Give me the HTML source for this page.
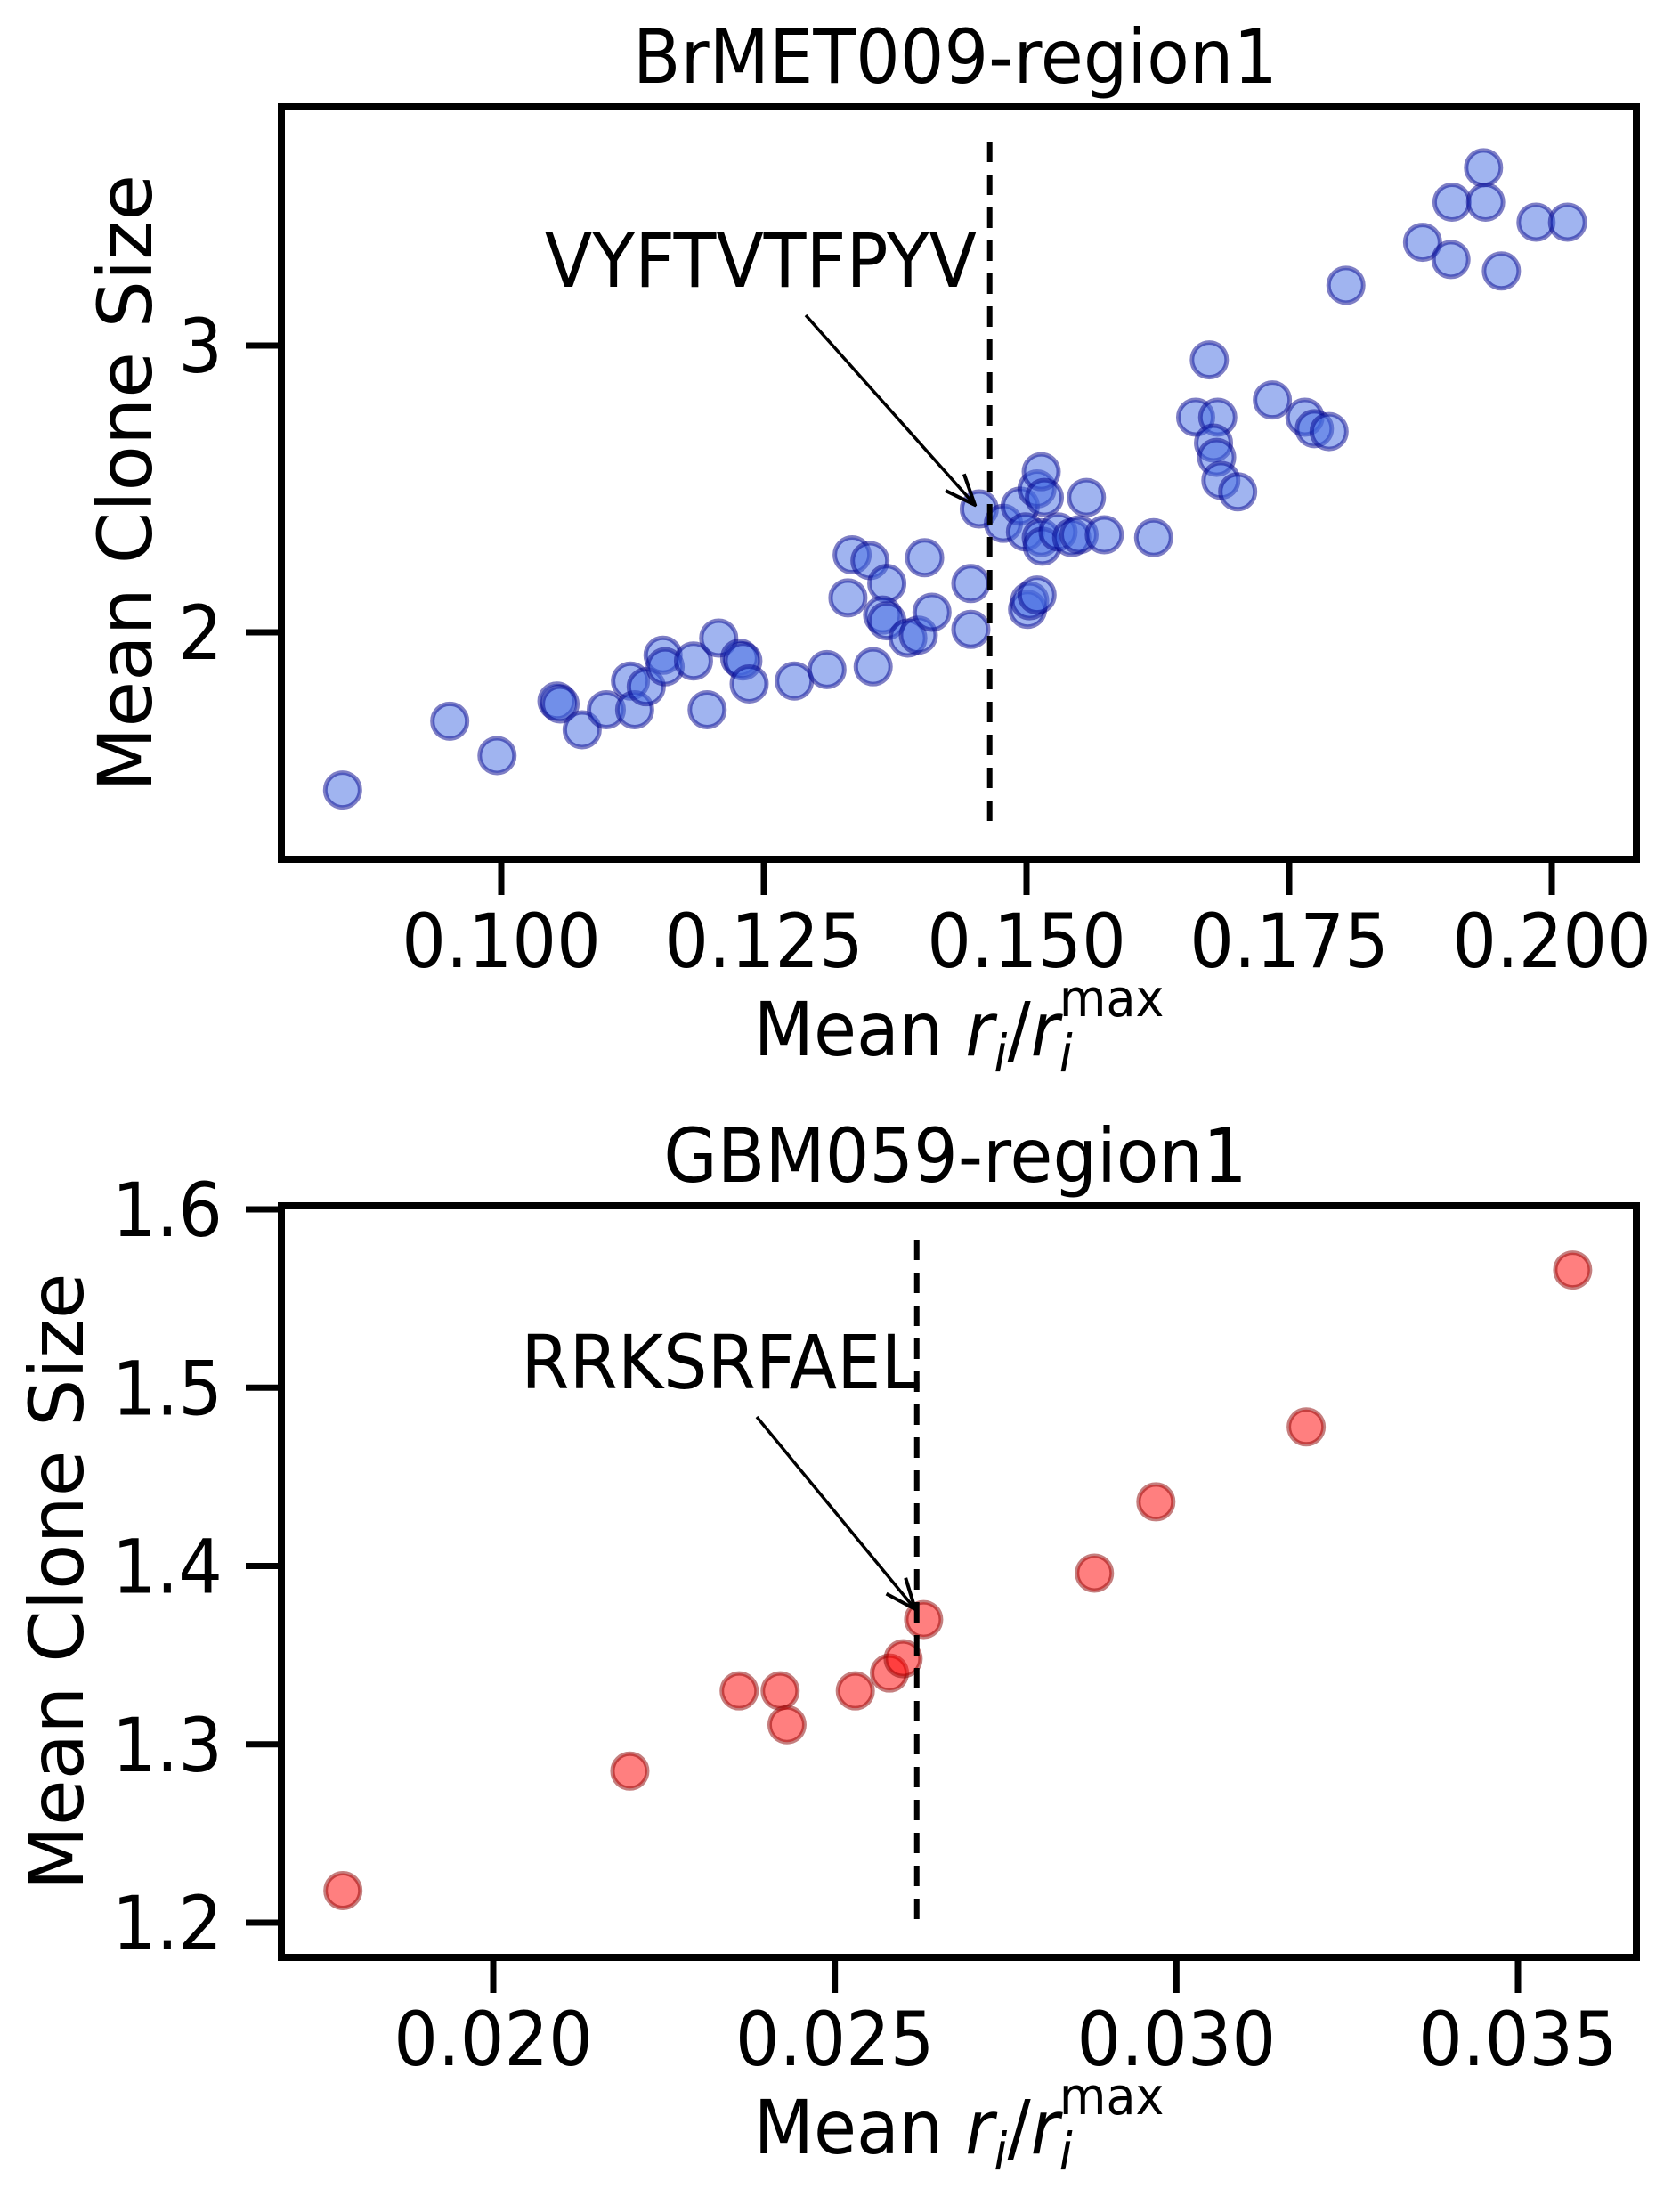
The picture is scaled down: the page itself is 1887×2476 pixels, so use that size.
<!DOCTYPE html>
<html><head><meta charset="utf-8">
<style>
html,body{margin:0;padding:0;background:#fff;}
svg{display:block;}
text{font-family:"DejaVu Sans","Liberation Sans",sans-serif;fill:#000;}
</style></head>
<body>
<svg id="chart" width="1887" height="2476" viewBox="0 0 1887 2476" xmlns="http://www.w3.org/2000/svg">
<defs>
<marker id="arr" viewBox="0 0 40 40" refX="38" refY="20" markerWidth="40" markerHeight="40" markerUnits="userSpaceOnUse" orient="auto">
<path d="M4,6 L38,20 L4,34" fill="none" stroke="#000" stroke-width="4"/>
</marker>
</defs>
</svg>
<script>
// Top panel data
const topX = [0.0849,0.0951,0.0996,0.1053,0.1056,0.1077,0.1100,0.1123,0.1127,0.1138,0.1154,0.1156,0.1183,0.1196,0.1207,0.1227,0.1230,0.1236,0.1279,0.1310,0.1330,0.1334,0.1351,0.1354,0.1367,0.1363,0.1367,0.1387,0.1397,0.1403,0.1410,0.1447,0.1447,0.1455,0.1478,0.1494,0.1499,0.1501,0.1503,0.1510,0.1510,0.1514,0.1514,0.1515,0.1517,0.1530,0.1543,0.1557,0.1550,0.1574,0.1621,0.1661,0.1674,0.1682,0.1678,0.1681,0.1685,0.1701,0.1734,0.1765,0.1774,0.1788,0.1804,0.1877,0.1904,0.1905,0.1935,0.1937,0.1952,0.1985,0.2015];
const topY = [1.45,1.69,1.57,1.76,1.75,1.66,1.73,1.83,1.73,1.81,1.92,1.88,1.90,1.73,1.98,1.91,1.90,1.82,1.83,1.87,2.12,2.27,2.25,1.88,2.17,2.06,2.04,1.98,1.99,2.26,2.07,2.17,2.01,2.43,2.38,2.44,2.35,2.08,2.11,2.13,2.50,2.56,2.33,2.30,2.47,2.35,2.33,2.47,2.34,2.34,2.33,2.75,2.95,2.75,2.66,2.61,2.53,2.49,2.81,2.75,2.71,2.70,3.21,3.36,3.30,3.50,3.62,3.50,3.26,3.43,3.43];
const topXTicks = [0.100,0.125,0.150,0.175,0.200];
const topXTickLabels = ["0.100","0.125","0.150","0.175","0.200"];
const topYTicks = [2,3];
const topYTickLabels = ["2","3"];
const topThreshold = 0.1465;
const topAnnX = 0.1455, topAnnY = 2.43;
// Bottom panel data
const botX = [0.0178,0.0220,0.0236,0.0242,0.0243,0.0253,0.0258,0.0260,0.0263,0.0288,0.0297,0.0319,0.0358];
const botY = [1.218,1.285,1.330,1.330,1.311,1.330,1.340,1.348,1.370,1.396,1.436,1.478,1.566];
const botXTicks = [0.020,0.025,0.030,0.035];
const botXTickLabels = ["0.020","0.025","0.030","0.035"];
const botYTicks = [1.2,1.3,1.4,1.5,1.6];
const botYTickLabels = ["1.2","1.3","1.4","1.5","1.6"];
const botThreshold = 0.0262;
const botAnnX = 0.0263, botAnnY = 1.370;

const NS = "http://www.w3.org/2000/svg";
const svg = document.getElementById('chart');
const FS = 84, SX = 0.93;
function mk(tag, attrs, parent){const e=document.createElementNS(NS,tag);for(const k in attrs)e.setAttribute(k,attrs[k]);(parent||svg).appendChild(e);return e;}
function htext(parent,x,y,anchor,str){
  return mk('text',{x:0,y:0,'text-anchor':anchor,'font-size':FS,transform:`translate(${x},${y}) scale(${SX},1)`},parent);
}

function panel(cfg){
  const g = mk('g',{});
  
  
  const sx = v => cfg.x0px + (v - cfg.x0v) * cfg.xs;
  const sy = v => cfg.y0px - (v - cfg.y0v) * cfg.ys;
  const L=cfg.left,R=cfg.right,T=cfg.top,B=cfg.bottom;
  const cx=(L+R)/2;
  const t = htext(g,cx-4,T-27,'middle'); t.textContent=cfg.title;
  
  
  const pts = mk('g',{},g);
  
  
  cfg.xs_.forEach((v,i)=>{
    const c = mk('circle',{cx:sx(v),cy:sy(cfg.ys_[i]),r:19.5,fill:cfg.fill,'fill-opacity':0.5,stroke:cfg.edge,'stroke-opacity':0.5,'stroke-width':5},pts);
    
    
  });
  const d = mk('line',{x1:sx(cfg.thr),x2:sx(cfg.thr),y1:cfg.dashTop,y2:cfg.dashBot,stroke:'#000','stroke-width':6,'stroke-dasharray':'23 14'},g);
  
  
  const at = htext(g,cfg.annTextX,cfg.annTextY,'end'); at.textContent=cfg.ann;
  
  
  const a = mk('line',{x1:cfg.arrX1,y1:cfg.arrY1,x2:cfg.arrX2,y2:cfg.arrY2,stroke:'#000','stroke-width':3.5,'marker-end':'url(#arr)'},g);
  
  
  const f = mk('rect',{x:L,y:T,width:R-L,height:B-T,fill:'none',stroke:'#000','stroke-width':8},g);
  
  
  cfg.xt.forEach((v,i)=>{
    const x=sx(v);
    const tk = mk('line',{x1:x,x2:x,y1:B,y2:B+40,stroke:'#000','stroke-width':7},g);
    
    
    const tl = htext(g,x,B+121,'middle'); tl.textContent=cfg.xtl[i];
    
    
  });
  cfg.yt.forEach((v,i)=>{
    const y=sy(v);
    const tk = mk('line',{x1:L-40,x2:L,y1:y,y2:y,stroke:'#000','stroke-width':7},g);
    
    
    const tl = htext(g,250,y+30,'end'); tl.textContent=cfg.ytl[i];
    
    
  });
  const xl = htext(g,cx,B+220,'middle');
  xl.innerHTML='Mean <tspan font-style="italic">r</tspan><tspan font-style="italic" font-size="58" dy="18">i</tspan><tspan dy="-18">/</tspan><tspan font-style="italic">r</tspan><tspan font-style="italic" font-size="58" dy="18">i</tspan><tspan font-size="58" dx="-16" dy="-62">max</tspan>';
  
  
  const yl = mk('text',{x:0,y:0,'text-anchor':'middle','font-size':FS,transform:`translate(${cfg.ylabX},${(T+B)/2}) rotate(-90)`},g);
  yl.textContent='Mean Clone Size';
  
  
}

panel({name:'top-panel',title:'BrMET009-region1',left:316,right:1838,top:120,bottom:965,
  x0px:563,x0v:0.1,xs:11800,y0px:710,y0v:2,ys:322,
  xs_:topX,ys_:topY,fill:'royalblue',edge:'darkblue',thr:topThreshold,dashTop:159,dashBot:923,
  ann:'VYFTVTFPYV',annTextX:1097,annTextY:322,arrX1:905,arrY1:354,arrX2:1095,arrY2:567,
  xt:topXTicks,xtl:topXTickLabels,yt:topYTicks,ytl:topYTickLabels,ylabX:170});
panel({name:'bottom-panel',title:'GBM059-region1',left:316,right:1838,top:1354,bottom:2198,
  x0px:554,x0v:0.020,xs:76733,y0px:2159,y0v:1.2,ys:2002.5,
  xs_:botX,ys_:botY,fill:'red',edge:'darkred',thr:botThreshold,dashTop:1392,dashBot:2159,
  ann:'RRKSRFAEL',annTextX:1033,annTextY:1559,arrX1:850,arrY1:1591,arrX2:1028,arrY2:1807,
  xt:botXTicks,xtl:botXTickLabels,yt:botYTicks,ytl:botYTickLabels,ylabX:93});
</script>
</body></html>
